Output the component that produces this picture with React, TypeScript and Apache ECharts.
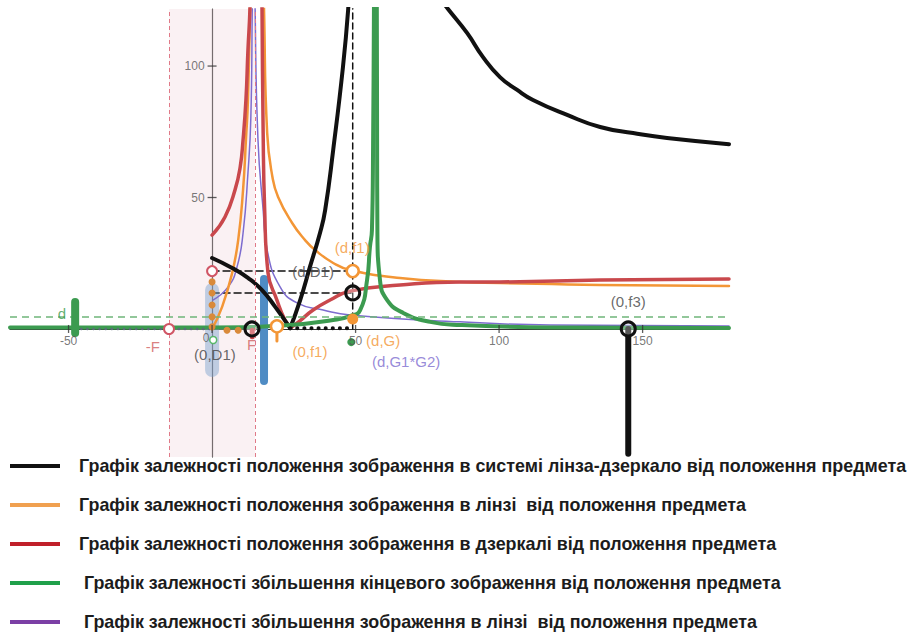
import React, { useEffect, useRef } from "react";
import * as echarts from "echarts";

// ---- legend texts ----
const LEGEND_NAMES = [
  "Графік залежності положення зображення в системі лінза-дзеркало від положення предмета",
  "Графік залежності положення зображення в лінзі  від положення предмета",
  "Графік залежності положення зображення в дзеркалі від положення предмета",
  " Графік залежності збільшення кінцевого зображення від положення предмета",
  " Графік залежності збільшення зображення в лінзі  від положення предмета",
];

// ---- axes ----
const X_TICKS = [-50, 0, 50, 100, 150];
const Y_TICKS = [50, 100];
const X_RANGE = [-70.4, 180.1];
const Y_RANGE = [-48.7, 121.7];

// ---- curves (x = object position, y = value) ----
const blackLeft = [[0, 27], [7, 23.2], [12.5, 19.4], [17.4, 14.8], [22, 8.4], [27.2, 0.3]];
const blackRise = [[27.2, 0.3], [30.7, 11], [34.1, 23.6], [37.6, 36.5], [39.4, 45.2], [42.2, 68.1], [45.6, 99.6], [47.4, 121.3], [47.8, 132]];
const blackRight = [[80.6, 124], [82.2, 121.7], [88.9, 112.5], [94.4, 103.4], [100.3, 95.8], [106.3, 90.9], [111.8, 87.1], [123.7, 81.4], [135.2, 76.8], [146.7, 74.5], [158.5, 72.6], [180.1, 70.3]];

const orangeLeft = [[0, 0], [3.5, 8.4], [7, 21.3], [9.1, 33.8], [10.8, 52.9], [11.8, 71.9], [12.5, 87], [13.2, 121.7], [13.4, 135]];
const orangeRight = [[17.9, 135], [18.1, 121.7], [19.2, 74.5], [21, 58], [23, 50.2], [27.9, 40.3], [32.4, 33.8], [35.9, 30], [42.2, 25.1], [48.1, 22.4], [65.5, 19.4], [86.4, 17.9], [100.3, 17.5], [135.2, 16.7], [180.1, 16.3]];

const redLeft = [[0, 35.7], [4.5, 42.6], [8, 52.9], [9.8, 61.6], [10.8, 71.9], [11.8, 87.1], [12.5, 106], [13.2, 121.7], [13.4, 135]];
const redDown = [[17.3, 135], [17.4, 121.7], [17.8, 74.5], [18.3, 46.4], [19.5, 21.3], [22.6, 11], [25.4, 3.4], [27.6, 0.6]];
const redUp = [[27.6, 0.6], [30.5, 3], [35.2, 7.2], [41.1, 11], [48.1, 14.4], [65.5, 16.7], [86.4, 17.9], [100.3, 17.9], [135.2, 18.6], [180.1, 19]];

const greenLeft = [[-70.4, 0.6], [0, 0.6], [27.2, 1.5], [42.2, 3.4], [48.1, 4.9], [51.6, 7.2], [54, 18.6], [55, 31.2], [55.7, 37.6], [56.1, 70], [56.4, 121.7], [56.5, 135]];
const greenRight = [[57.3, 135], [57.4, 121.7], [57.5, 70], [57.6, 37.6], [58.5, 18.6], [61, 11], [66.6, 6.1], [76, 2.7], [86.4, 1.5], [117.8, 0.6], [180.1, 0.4]];

const purpleLeft = [[0.3, 11], [5.6, 16], [8.7, 23.6], [10.8, 36.5], [12.5, 59.3], [13.5, 80], [14, 121.7], [14.1, 135]];
const purpleRight = [[14.9, 135], [15, 121.7], [16, 71.9], [17.8, 45.2], [19.2, 30], [23.7, 16], [29.6, 9.9], [38.7, 7.2], [48.1, 5.3], [86.4, 2.7], [117.8, 1.5], [180.1, 1.1]];

// ---- construction values ----
const F = 15;          // focal distance
const D = 49;          // object position d
const D1 = 22;         // D1 level
const SYS = 13.7;      // system image level
const D_LEVEL = 4.6;   // green dashed level
const F3 = 145;        // f3 position

const redOpen = [[0, D1], [-F, 0]];
const orangeOpen = [[D, D1], [22.6, 1]];
const blackOpen = [[D, SYS], [13.9, 0], [F3, 0]];
const orangeFilled = [[D, 3.8]];
const greenFilled = [[48.5, -5]];
const greenSmallOpen = [[0.4, -4.2]];
const orangeDots = [[0, 17.9], [0, 13.7], [0, 9.1], [0, 4.6], [0, 0.8], [5.2, -0.5], [9.1, -0.5]];

const lensBar = [[0, 14.8], [0, -15.6]];
const mirrorBar = [[18.1, 19], [18.1, -19.8]];
const dBar = [[-47.7, 10.3], [-47.7, -1.5]];
const f3Bar = [[F3, 0], [F3, -47.5]];
const orangeStem = [[22.6, 0], [22.6, -4.6]];
const redPin = [[14, -0.5], [14, -3]];
const dVertical = [[D, 0], [D, 125]];
const d1Horizontal = [[0, D1], [D, D1]];
const sysHorizontal = [[0, SYS], [D, SYS]];
const grayDotted = [[-47.7, 0], [0, 0]];
const blackDotted = [[27.2, 0.3], [D, 0.3]];

const labelTexts = ["(d,f1)", "(d,D1)", "(0,f1)", "(d,G)", "(d,G1*G2)", "(0,D1)", "-F", "F", "(0,f3)", "d"];
const labelPos = [[48.8, 31], [35.2, 21.7], [34.1, -8.4], [59.6, -4.2], [67.6, -12.5], [1, -9.8], [-20.6, -6.8], [13.8, -6], [145, 10.3], [-52.3, 5.7]];

const C = {
  black: "#111111",
  orange: "#f39636",
  red: "#c9484c",
  green: "#3c9b50",
  purple: "#7d6ccf",
};
const LEGEND_COLORS = ["#111111", "#f0a050", "#c0202a", "#20a04a", "#7b3fa5"];
const LABEL_COLORS = [C.orange, "#444", C.orange, C.orange, C.purple, "#444", "#d06060", "#d06060", "#444", C.green];

const FONT = "Liberation Sans, Arial, sans-serif";

function curve(name: string, data: number[][], color: string, width: number, z = 3) {
  return {
    type: "line",
    name,
    data,
    smooth: 0.5,
    showSymbol: false,
    symbol: "none",
    silent: true,
    z,
    lineStyle: { color, width, cap: "round", join: "round" },
    itemStyle: { color },
  };
}

function seg(data: number[][], color: string, width: number, type: any = "solid", z = 4, opacity = 1) {
  return {
    type: "line",
    data,
    showSymbol: false,
    symbol: "none",
    silent: true,
    z,
    lineStyle: { color, width, type, cap: "round", opacity },
  };
}

function pts(data: number[][], size: any, fill: string, stroke: string, bw: number, z = 6, symbol = "circle") {
  return {
    type: "scatter",
    data,
    symbol,
    symbolSize: size,
    silent: true,
    z,
    itemStyle: { color: fill, borderColor: stroke, borderWidth: bw, opacity: 1 },
  };
}

export default function App() {
  const ref = useRef<HTMLDivElement>(null);
  useEffect(() => {
    if (!ref.current) return;
    const chart = echarts.init(ref.current, null, { renderer: "svg" });

    const labelSeries = {
      type: "scatter",
      silent: true,
      z: 8,
      symbolSize: 1,
      itemStyle: { color: "transparent" },
      data: labelTexts.map((t, i) => ({
        value: labelPos[i],
        label: {
          show: true,
          position: "inside",
          formatter: t,
          color: LABEL_COLORS[i],
          fontSize: 15,
          fontFamily: FONT,
        },
      })),
    };

    const xTickLabels = {
      type: "scatter",
      silent: true,
      z: 9,
      symbol: "rect",
      symbolSize: [1.3, 8],
      itemStyle: { color: "#333" },
      data: X_TICKS.map((v) => ({
        value: [v, 0],
        label: {
          show: true,
          position: "bottom",
          distance: 2,
          formatter: String(v),
          color: "#555",
          fontSize: 12,
          fontFamily: FONT,
          offset: v === 0 ? [-6, -3] : [0, 0],
        },
      })),
    };

    const yTickLabels = {
      type: "scatter",
      silent: true,
      z: 9,
      symbol: "rect",
      symbolSize: [9, 1.3],
      itemStyle: { color: "#333" },
      data: Y_TICKS.map((v) => ({
        value: [0, v],
        label: {
          show: true,
          position: "left",
          distance: 3,
          formatter: String(v),
          color: "#555",
          fontSize: 12,
          fontFamily: FONT,
        },
      })),
    };

    const option: any = {
      animation: false,
      backgroundColor: "#ffffff",
      grid: { left: 10, right: 185, top: 9, bottom: 179, containLabel: false, outerBoundsMode: "none" },
      legend: {
        orient: "vertical",
        left: 10,
        top: 457,
        height: 180,
        padding: 0,
        itemWidth: 50,
        itemHeight: 4,
        itemGap: 21,
        icon: "rect",
        selectedMode: false,
        data: LEGEND_NAMES.map((n, i) => ({ name: n, itemStyle: { color: LEGEND_COLORS[i] } })),
        textStyle: {
          fontFamily: "Liberation Sans Narrow, Liberation Sans, Arial, sans-serif",
          fontWeight: "bold",
          fontSize: 17.9,
          color: "#1c1c1c",
          padding: [0, 0, 0, 14],
          lineHeight: 18,
        },
      },
      xAxis: {
        type: "value",
        min: X_RANGE[0],
        max: X_RANGE[1],
        axisLine: { onZero: true, lineStyle: { color: "#333", width: 1.2 } },
        axisTick: { show: false },
        axisLabel: { show: false },
        splitLine: { show: false },
      },
      yAxis: {
        type: "value",
        min: Y_RANGE[0],
        max: Y_RANGE[1],
        axisLine: { onZero: true, lineStyle: { color: "#333", width: 1.2 } },
        axisTick: { show: false },
        axisLabel: { show: false },
        splitLine: { show: false },
      },
      series: [
        {
          type: "line",
          data: [[-F, 0]],
          showSymbol: false,
          symbol: "none",
          silent: true,
          z: 1,
          lineStyle: { opacity: 0 },
          markArea: {
            silent: true,
            itemStyle: { color: "rgba(240,215,220,0.35)" },
            data: [[{ xAxis: -F }, { xAxis: F }]],
          },
          markLine: {
            silent: true,
            symbol: "none",
            label: { show: false },
            data: [
              { xAxis: -F, lineStyle: { color: "#e07a88", type: [4, 3], width: 1 } },
              { xAxis: F, lineStyle: { color: "#e07a88", type: [4, 3], width: 1 } },
              { yAxis: D_LEVEL, lineStyle: { color: "#6fb57a", type: [7, 5], width: 1.5 } },
            ],
          },
        },
        seg(dVertical, "#111", 1.5, [6, 4], 2),
        seg(d1Horizontal, "#111", 1.5, [7, 4], 2),
        seg(sysHorizontal, "#111", 1.5, [7, 4], 2),
        seg(lensBar, "rgba(120,160,205,0.45)", 14, "solid", 2),
        seg(mirrorBar, "#4f8cc4", 8, "solid", 2),
        curve(LEGEND_NAMES[4], purpleLeft, C.purple, 1.5),
        curve(LEGEND_NAMES[4], purpleRight, C.purple, 1.5),
        curve(LEGEND_NAMES[1], orangeLeft, C.orange, 2.5),
        curve(LEGEND_NAMES[1], orangeRight, C.orange, 2.5),
        curve(LEGEND_NAMES[2], redLeft, C.red, 3.5),
        curve(LEGEND_NAMES[2], redDown, C.red, 3.5),
        curve(LEGEND_NAMES[2], redUp, C.red, 3.5),
        curve(LEGEND_NAMES[0], blackLeft, C.black, 4),
        curve(LEGEND_NAMES[0], blackRise, C.black, 4),
        curve(LEGEND_NAMES[0], blackRight, C.black, 4),
        curve(LEGEND_NAMES[3], greenLeft, C.green, 4, 4),
        curve(LEGEND_NAMES[3], greenRight, C.green, 4, 4),
        seg(grayDotted, "#5b6b7a", 2.5, [0.1, 6], 5),
        seg(blackDotted, "#111", 4, [0.1, 7], 5),
        seg(dBar, C.green, 8, "solid", 5),
        seg(f3Bar, "#111", 6, "solid", 5),
        seg(orangeStem, C.orange, 3, "solid", 5),
        seg(redPin, C.red, 5, "solid", 5),
        pts(orangeDots, 7, "#d98a3a", "#d98a3a", 0, 6),
        pts(redOpen, 10, "#ffffff", "#d05565", 2, 7),
        pts(orangeOpen, 12, "#ffffff", C.orange, 2.5, 7),
        pts(blackOpen, 14, "rgba(255,255,255,0.3)", "#111", 3, 7),
        pts(orangeFilled, 11, C.orange, C.orange, 0, 7),
        pts(greenFilled, 8, C.green, C.green, 0, 7),
        pts(greenSmallOpen, 7, "#ffffff", "#59b86a", 1.5, 7),
        xTickLabels,
        yTickLabels,
        labelSeries,
      ],
    };
    chart.setOption(option);
    return () => chart.dispose();
  }, []);
  return (
    <div
      ref={ref}
      style={{ position: "absolute", left: 0, top: 0, width: 914, height: 636, background: "#fff" }}
    />
  );
}
